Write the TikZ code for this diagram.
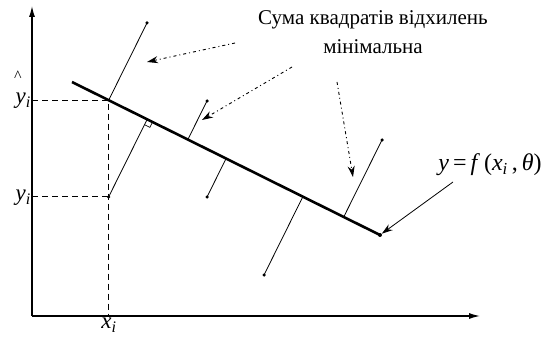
\documentclass[tikz,border=0pt]{standalone}
\usepackage{fontspec}
\setmainfont{Liberation Serif}
\usetikzlibrary{arrows.meta,calc}
\begin{document}
\begin{tikzpicture}[x=1pt,y=-1pt,
  axis/.style={line width=1.3pt,-{Latex[length=11pt,width=6pt]}},
  fitline/.style={line width=2.6pt},
  dev/.style={line width=0.8pt},
  guide/.style={line width=1pt,dash pattern=on 6pt off 4pt},
  pt/.style={circle,fill,inner sep=0pt,minimum size=4pt},
  note/.style={line width=0.9pt,dash pattern=on 3pt off 3pt on 1pt off 3pt,-{Stealth[length=11pt,width=7pt]}},
  pointer/.style={line width=0.8pt,-{Stealth[length=11pt,width=7pt]}},
  lbl/.style={font=\fontsize{21}{24}\selectfont},
  mlbl/.style={font=\fontsize{23}{26}\selectfont},
]
\useasboundingbox (0,0) rectangle (550,337);
% axes
\coordinate (O) at (32,316);
\coordinate (Ytop) at (32,6);
\coordinate (Xend) at (480,316);
\draw[axis] (O) -- (Ytop);
\draw[axis] (O) -- (Xend);
% fitted line
\coordinate (A) at (72,82);
\coordinate (B) at (380,235);
\draw[fitline] (A) -- (B);
\node[pt] (Bd) at (B) {};
% data points
\coordinate (P1) at (147,23);
\coordinate (P2) at (108.6,197);
\coordinate (P3) at (207,101);
\coordinate (P4) at (207,197);
\coordinate (P5) at (264,275);
\coordinate (P6) at (382,140);
\foreach \i in {1,...,6}{
  \coordinate (F\i) at ($(A)!(P\i)!(B)$);
  \draw[dev] (P\i) -- (F\i);
  \node[pt,minimum size=3.5pt] (D\i) at (P\i) {};
}
% right angle mark
\coordinate (M1) at ($(F2)!6pt!(B)$);
\coordinate (M3) at ($(F2)!6pt!(P2)$);
\coordinate (M2) at ($(M1)+(M3)-(F2)$);
\draw[line width=0.7pt] (M1) -- (M2) -- (M3);
% guides
\coordinate (Yh) at (O |- F1);
\coordinate (Xi) at (F1 |- O);
\coordinate (Yi) at (O |- P2);
\draw[guide] (Yh) -- (F1) -- (Xi);
\draw[guide] (Yi) -- (P2);
% axis labels
\node[mlbl,anchor=east,inner sep=0pt] (yhat) at (31,101) {\textit{y}\textsubscript{\textit{i}}};
\node[font=\fontsize{16}{18}\selectfont,inner sep=0pt,anchor=south] (hat) at (18,82) {\textasciicircum};
\node[mlbl,anchor=east,inner sep=0pt] (yi) at (31,198) {\textit{y}\textsubscript{\textit{i}}};
\node[mlbl,anchor=north,inner sep=0pt] (xi) at (109,318) {\textit{x}\textsubscript{\textit{i}}};
% title
\node[lbl,inner sep=0pt] (t1) at (373,20) {Сума квадратів відхилень};
\node[lbl,inner sep=0pt] (t2) at (373,47) {мінімальна};
\coordinate (Na) at (235,43);
\coordinate (Ta) at (147,62);
\coordinate (Nb) at (292,67);
\coordinate (Tb) at (202,120);
\coordinate (Nc) at (337,82);
\coordinate (Tc) at (353,177);
\draw[note] (Na) -- (Ta);
\draw[note] (Nb) -- (Tb);
\draw[note] (Nc) -- (Tc);
% function label
\node[font=\fontsize{24}{27}\selectfont,inner sep=0pt] (flbl) at (490,165) {\textit{y}\,=\,\textit{f}\,(\textit{x}\textsubscript{\textit{i}}\,,\,\textit{θ})};
\coordinate (Nd) at (453,182);
\draw[pointer] (Nd) -- (Bd);
\end{tikzpicture}
\end{document}
